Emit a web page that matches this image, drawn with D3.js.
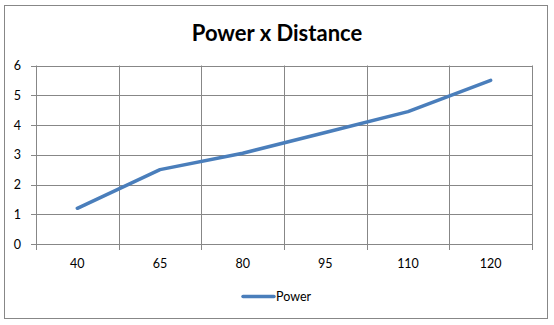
<!DOCTYPE html>
<html>
<head>
<meta charset="utf-8">
<script src="https://cdn.jsdelivr.net/npm/d3@7"></script>
<style>
  body { margin: 0; background: #fff; }
  svg { display: block; font-family: Lato, "Open Sans", sans-serif; }
</style>
</head>
<body>
<div id="chart"></div>
<script>
const categories = ["40", "65", "80", "95", "110", "120"];
const powerValues = [1.2, 2.5, 3.05, 3.75, 4.45, 5.5];
const yTicks = [0, 1, 2, 3, 4, 5, 6];
const seriesName = "Power";
const chartTitle = "Power x Distance";

const width = 554, height = 325;
const margin = { left: 36, right: 22, top: 65.5, bottom: 81 };
const lineColor = "#4a7ebb";
const gridColor = "#878787";

const svg = d3.select("#chart").append("svg")
    .attr("width", width)
    .attr("height", height);

// outer chart border
svg.append("rect")
    .attr("x", 4.5).attr("y", 5.5)
    .attr("width", 543).attr("height", 313)
    .attr("fill", "#fff")
    .attr("stroke", gridColor);

const x = d3.scaleBand()
    .domain(categories)
    .range([margin.left, width - margin.right]);

const y = d3.scaleLinear()
    .domain([0, 6])
    .range([height - margin.bottom, margin.top]);

// horizontal gridlines
svg.append("g")
    .selectAll("line")
    .data(yTicks)
    .enter().append("line")
    .attr("x1", margin.left - 5)
    .attr("x2", width - margin.right)
    .attr("y1", d => Math.round(y(d)) + 0.5)
    .attr("y2", d => Math.round(y(d)) + 0.5)
    .attr("stroke", gridColor);

// vertical gridlines at category boundaries
const bounds = categories.map(c => x(c)).concat([x.range()[1]]);
svg.append("g")
    .selectAll("line")
    .data(bounds)
    .enter().append("line")
    .attr("x1", d => Math.round(d) + 0.5)
    .attr("x2", d => Math.round(d) + 0.5)
    .attr("y1", margin.top)
    .attr("y2", height - margin.bottom + 6)
    .attr("stroke", gridColor);

// y labels
svg.append("g")
    .selectAll("text")
    .data(yTicks)
    .enter().append("text")
    .attr("x", 21)
    .attr("y", d => y(d) + 4.5)
    .attr("text-anchor", "end")
    .attr("font-size", 12.5)
    .attr("fill", "#000")
    .text(d => d);

// x labels
svg.append("g")
    .selectAll("text")
    .data(categories)
    .enter().append("text")
    .attr("x", d => x(d) + x.bandwidth() / 2)
    .attr("y", 268)
    .attr("text-anchor", "middle")
    .attr("font-size", 12.5)
    .attr("fill", "#000")
    .text(d => d);

// series line
const line = d3.line()
    .x((d, i) => x(categories[i]) + x.bandwidth() / 2)
    .y(d => y(d));

svg.append("path")
    .datum(powerValues)
    .attr("d", line)
    .attr("fill", "none")
    .attr("stroke", lineColor)
    .attr("stroke-width", 3.5)
    .attr("stroke-linejoin", "round")
    .attr("stroke-linecap", "round");

// title
svg.append("text")
    .attr("x", 277)
    .attr("y", 41)
    .attr("text-anchor", "middle")
    .attr("font-size", 22)
    .attr("font-weight", "bold")
    .attr("fill", "#000")
    .text(chartTitle);

// legend
const legend = svg.append("g");
legend.append("line")
    .attr("x1", 243).attr("x2", 274)
    .attr("y1", 296.5).attr("y2", 296.5)
    .attr("stroke", lineColor)
    .attr("stroke-width", 3.5)
    .attr("stroke-linecap", "round");
legend.append("text")
    .attr("x", 276)
    .attr("y", 301)
    .attr("font-size", 12.5)
    .attr("fill", "#000")
    .text(seriesName);
</script>
</body>
</html>
